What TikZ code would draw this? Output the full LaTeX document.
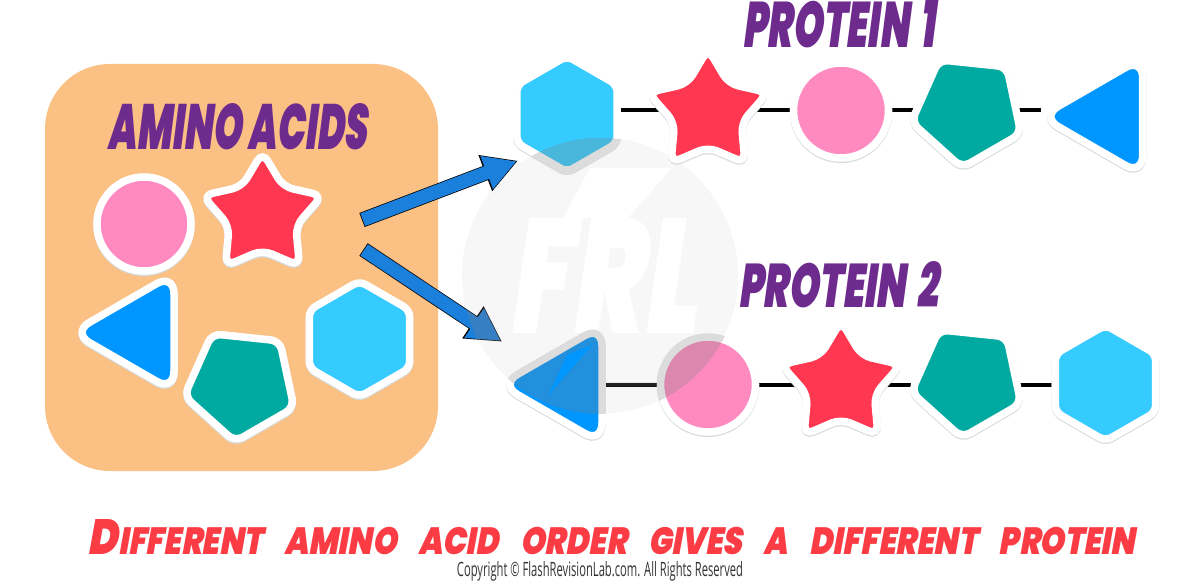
\documentclass[tikz,border=0pt]{standalone}
\usepackage{graphicx}
\usepackage{fontspec}
\usetikzlibrary{positioning, calc, shapes.geometric, arrows.meta, backgrounds}
\newfontfamily\comicfont[FakeSlant=0.22]{Poppins Black}
\newfontfamily\copyfont{Open Sans}
\definecolor{boxorange}{HTML}{FAC084}
\definecolor{titlepurple}{HTML}{6D2B8E}
\definecolor{slogred}{HTML}{FB3C45}
\definecolor{circpink}{HTML}{FF8AC0}
\definecolor{starred}{HTML}{FF3750}
\definecolor{pentgreen}{HTML}{00AAA0}
\definecolor{hexblue}{HTML}{35CBFF}
\definecolor{triblue}{HTML}{0096FF}
\definecolor{arrowblue}{HTML}{1B7FDC}
\definecolor{shadegrey}{HTML}{D5DDE0}
\definecolor{markgrey}{HTML}{F7F7F7}
\newcommand{\comictext}[3]{\resizebox{#1pt}{#2pt}{\comicfont #3}}
\tikzstyle{Amino} = [
	inner sep = 0pt,
	outer sep = 0pt,
	draw = white,
	line width = 7.5pt,
	preaction = {draw = shadegrey, line width = 7.5pt, transform canvas = {yshift = -1.3pt}}
	]
\tikzstyle{Chain} = [line width = 4pt, black]
\tikzstyle{BigArrow} = [
	arrowblue, line width = 13.5pt,
	-{Triangle[length=32pt, width=33pt]},
	shorten <= 0.8pt, shorten >= 1.5pt,
	preaction = {draw = black, line width = 15pt, shorten <= 0pt, shorten >= 0pt, -{Triangle[length=35pt, width=36pt]}}
	]

\begin{document}
\begin{tikzpicture}[x=1pt, y=-1pt,
	hexa/.style={Amino, regular polygon, regular polygon sides=6, shape border rotate=30, minimum size=116pt, rounded corners=7pt, fill=hexblue},
	penta/.style={Amino, regular polygon, regular polygon sides=5, shape border rotate=174, minimum size=116pt, rounded corners=9pt, fill=pentgreen},
	tri/.style={Amino, regular polygon, regular polygon sides=3, shape border rotate=90, minimum size=136pt, rounded corners=20pt, fill=triblue},
	starry/.style={Amino, star, star points=5, star point ratio=1.8, minimum size=126pt, rounded corners=10pt, fill=starred},
	disc/.style={Amino, circle, minimum size=95pt, fill=circpink},
	tint/.style={fill=black, draw=black}
]
 \useasboundingbox (0,0) rectangle (1200,583);

 \begin{scope}[on background layer]
 \fill[markgrey] (600,275.5) circle [radius=138];
 \fill[white] (590,168) -- (672,168) -- (628,218) -- (563,218) -- cycle;
 \node[white] (markfrl) at (602,275.5) {\comictext{188}{115}{FRL}};
 \end{scope}

 \node[fill=boxorange, rounded corners=65pt, minimum width=393pt, minimum height=407pt, inner sep=0pt] (box) at (241.5,267.5) {};
 \node (aminotitle) at (237.5,126.5) {\textcolor{titlepurple}{\comictext{259}{46}{AMINO ACIDS}}};
 \node (p1title) at (838.5,24) {\textcolor{titlepurple}{\comictext{193}{47}{PROTEIN\hspace{.12em} 1}}};
 \node (p2title) at (838,285) {\textcolor{titlepurple}{\comictext{200}{46}{PROTEIN\hspace{.12em} 2}}};

 % loose amino acids
 \node[disc, minimum size=94pt] (boxcirc) at (144,224) {};
 \node[starry] (boxstar) at (262.5,215) {};
 \node[tri] (boxtri) at (140,332.5) {};
 \node[penta] (boxpent) at (241,384) {};
 \node[hexa] (boxhex) at (359.5,339) {};

 % first chain
 \node[hexa] (p1hex) at (567,114) {};
 \node[starry] (p1star) at (708,112) {};
 \node[disc] (p1circ) at (841,110.5) {};
 \node[penta] (p1pent) at (968,110) {};
 \node[tri] (p1tri) at (1108.7,116.5) {};

 % second chain
 \node[tri] (p2tri) at (568,384.5) {};
 \node[disc] (p2circ) at (708,384.5) {};
 \node[starry] (p2star) at (841,384) {};
 \node[penta] (p2pent) at (968,380) {};
 \node[hexa] (p2hex) at (1105.5,383) {};

 \begin{scope}[on background layer]
 \draw[Chain] (p1hex.east |- p1circ) -- (p1star.west |- p1circ);
 \draw[Chain] (p1star.east |- p1circ) -- (p1circ.west);
 \draw[Chain] (p1circ.east) -- (p1pent.west |- p1circ);
 \draw[Chain] (p1pent.east |- p1circ) -- (p1tri.west |- p1circ);
 \draw[Chain] (p2tri.east |- p2circ) -- (p2circ.west);
 \draw[Chain] (p2circ.east) -- (p2star.west |- p2circ);
 \draw[Chain] (p2star.east |- p2circ) -- (p2pent.west |- p2circ);
 \draw[Chain] (p2pent.east |- p2circ) -- (p2hex.west |- p2circ);
 \end{scope}

 \coordinate (uptail) at (362,220);
 \coordinate (uphead) at (518,160.7);
 \coordinate (downtail) at (363.5,249.5);
 \coordinate (downhead) at (502,341.7);
 \draw[BigArrow] (uptail) -- (uphead);
 \draw[BigArrow] (downtail) -- (downhead);

 % watermark darkens what lies under it
 \begin{scope}
 \clip (600,275.5) circle [radius=138];
 \begin{scope}[transparency group, opacity=.27]
 \node[hexa, tint, black!50] (p1hexmark) at (567,114) {};
 \node[tri, tint, black!50] (p2trimark) at (568,384.5) {};
 \node[disc, tint, black!50] (p2circmark) at (708,384.5) {};
 \draw[black!50, line width=4pt] (p2trimark.east |- p2circmark) -- (p2circmark.west);
 \draw[black!50, line width=15pt, -{Triangle[length=35pt, width=36pt]}] (downtail) -- (downhead);
 \end{scope}
 \end{scope}
 \fill[triblue] (567,355) -- (592,345) -- (548,396) -- cycle;

 \node[inner sep=0pt] (slogan) at (611.5,537.5) {\textcolor{slogred}{\resizebox{1047pt}{35pt}{\comicfont \fontsize{30}{30}\selectfont D\fontsize{23}{23}\selectfont IFFERENT\hspace{16pt}AMINO\hspace{16pt}ACID\hspace{16pt}ORDER\hspace{16pt}GIVES\hspace{16pt}A\hspace{16pt}DIFFERENT\hspace{16pt}PROTEIN}}};
 \node[inner sep=0pt] (copyright) at (600,571.5) {\textcolor{black!80}{\resizebox{286pt}{15pt}{\copyfont Copyright © FlashRevisionLab.com. All Rights Reserved}}};
\end{tikzpicture}
\end{document}
